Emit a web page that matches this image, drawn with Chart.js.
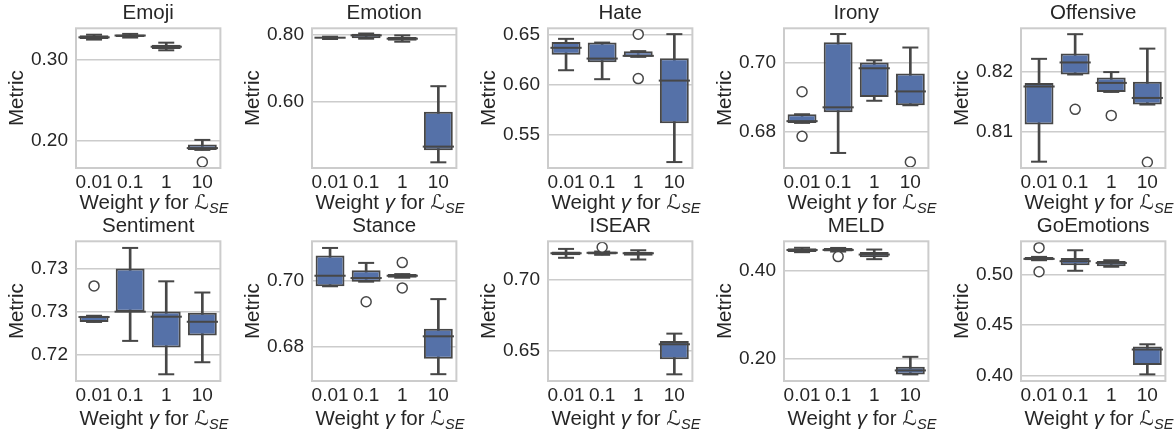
<!DOCTYPE html>
<html><head><meta charset="utf-8">
<script src="https://cdn.jsdelivr.net/npm/chart.js@4/dist/chart.umd.min.js"></script>
<style>
body{margin:0;width:1174px;height:429px;overflow:hidden;background:#fff;position:relative;font-family:"Liberation Sans",Arial,sans-serif;}
.panel{position:absolute;width:238px;height:194px;}
.xl{position:absolute;font-size:20.5px;line-height:22px;color:#262626;white-space:nowrap;transform:translate(-50%,-50%);}
.xl sub{font-size:14.5px;vertical-align:-4px;line-height:0}
.xl .cal{font-family:"DejaVu Sans",sans-serif;font-style:italic;}
</style></head><body>
<script>
// ---- data (box stats per category: [whiskerLow, q1, median, q3, whiskerHigh]) ----
const categories = ['0.01', '0.1', '1', '10'];
const panelTitles = ['Emoji','Emotion','Hate','Irony','Offensive','Sentiment','Stance','ISEAR','MELD','GoEmotions'];

const emojiBox = [[0.3252,0.3258,0.3280,0.3305,0.3312],[0.3277,0.3285,0.3302,0.3315,0.3322],[0.3120,0.3136,0.3164,0.3189,0.3214],[0.1893,0.1893,0.1915,0.1959,0.2016]];
const emojiOut = [['10',0.1744]];
const emojiTicks = [0.20,0.30];
const emojiTickLabels = ['0.20','0.30'];
const emojiRange = [0.1670,0.3391];

const emotionBox = [[0.788,0.790,0.792,0.794,0.795],[0.789,0.790,0.799,0.804,0.8045],[0.780,0.783,0.789,0.794,0.799],[0.419,0.455,0.466,0.570,0.6468]];
const emotionOut = [];
const emotionTicks = [0.60,0.80];
const emotionTickLabels = ['0.60','0.80'];
const emotionRange = [0.402,0.8201];

const hateBox = [[0.6143,0.6296,0.6366,0.6425,0.6455],[0.6054,0.6223,0.6259,0.6418,0.6418],[0.6276,0.6276,0.6286,0.6333,0.6333],[0.523,0.5615,0.604,0.6263,0.6502]];
const hateOut = [['1',0.6502],['1',0.606]];
const hateTicks = [0.55,0.60,0.65];
const hateTickLabels = ['0.55','0.60','0.65'];
const hateRange = [0.5171,0.656];

const ironyBox = [[0.6825,0.6825,0.6830,0.6850,0.6850],[0.6738,0.6856,0.6870,0.7058,0.7082],[0.6889,0.6900,0.6983,0.7000,0.7006],[0.6876,0.6876,0.6916,0.6968,0.7043]];
const ironyOut = [['0.01',0.6915],['0.01',0.6786],['10',0.6712]];
const ironyTicks = [0.68,0.70];
const ironyTickLabels = ['0.68','0.70'];
const ironyRange = [0.66945,0.70986];

const offensiveBox = [[0.8051,0.8113,0.8176,0.8182,0.8222],[0.8196,0.8196,0.8216,0.8231,0.8263],[0.8167,0.8167,0.8182,0.8191,0.8200],[0.8146,0.8146,0.8157,0.8184,0.8239]];
const offensiveOut = [['0.1',0.8138],['1',0.8128],['10',0.8050]];
const offensiveTicks = [0.81,0.82];
const offensiveTickLabels = ['0.81','0.82'];
const offensiveRange = [0.80405,0.82728];

const sentimentBox = [[0.72378,0.72378,0.72435,0.7245,0.7245],[0.72158,0.72497,0.72497,0.7300,0.73238],[0.7177,0.7208,0.72439,0.7250,0.7285],[0.7191,0.7222,0.7238,0.72485,0.7272]];
const sentimentOut = [['0.01',0.72797]];
const sentimentTicks = [0.720,0.725,0.730];
const sentimentTickLabels = ['0.72','0.73','0.73'];
const sentimentRange = [0.71692,0.73315];

const stanceBox = [[0.6984,0.6984,0.7016,0.70775,0.71004],[0.6998,0.6998,0.7009,0.7033,0.7055],[0.7010,0.7010,0.7016,0.7021,0.7021],[0.6717,0.6764,0.6832,0.6855,0.6945]];
const stanceOut = [['0.1',0.6937],['1',0.7056],['1',0.6979]];
const stanceTicks = [0.68,0.70];
const stanceTickLabels = ['0.68','0.70'];
const stanceRange = [0.66963,0.71206];

const isearBox = [[0.7154,0.7172,0.7186,0.7198,0.72165],[0.7175,0.7177,0.7189,0.7198,0.7198],[0.7142,0.7168,0.7186,0.7196,0.7207],[0.6335,0.6441,0.6546,0.6570,0.6621]];
const isearOut = [['0.1',0.7228]];
const isearTicks = [0.65,0.70];
const isearTickLabels = ['0.65','0.70'];
const isearRange = [0.6288,0.727];

const meldBox = [[0.4430,0.4436,0.4480,0.4519,0.4530],[0.4444,0.4444,0.4481,0.4526,0.4526],[0.4271,0.4316,0.4376,0.4436,0.4490],[0.1654,0.1654,0.1744,0.1827,0.2053]];
const meldOut = [['0.1',0.4330]];
const meldTicks = [0.20,0.40];
const meldTickLabels = ['0.20','0.40'];
const meldRange = [0.1504,0.4677];

const goemotionsBox = [[0.5145,0.5145,0.5158,0.5178,0.5178],[0.5040,0.5096,0.5135,0.5168,0.5244],[0.5080,0.5086,0.5118,0.5138,0.5145],[0.4010,0.4102,0.4257,0.4286,0.4309]];
const goemotionsOut = [['0.01',0.5270],['0.01',0.5030]];
const goemotionsTicks = [0.40,0.45,0.50];
const goemotionsTickLabels = ['0.40','0.45','0.50'];
const goemotionsRange = [0.3944,0.5333];

// ---- layout / style ----
const panels = [
  [emojiBox, emojiOut, emojiTicks, emojiTickLabels, emojiRange],
  [emotionBox, emotionOut, emotionTicks, emotionTickLabels, emotionRange],
  [hateBox, hateOut, hateTicks, hateTickLabels, hateRange],
  [ironyBox, ironyOut, ironyTicks, ironyTickLabels, ironyRange],
  [offensiveBox, offensiveOut, offensiveTicks, offensiveTickLabels, offensiveRange],
  [sentimentBox, sentimentOut, sentimentTicks, sentimentTickLabels, sentimentRange],
  [stanceBox, stanceOut, stanceTicks, stanceTickLabels, stanceRange],
  [isearBox, isearOut, isearTicks, isearTickLabels, isearRange],
  [meldBox, meldOut, meldTicks, meldTickLabels, meldRange],
  [goemotionsBox, goemotionsOut, goemotionsTicks, goemotionsTickLabels, goemotionsRange]
];
const plotLefts = [76, 312, 548, 784, 1021];
const rowTops = [0, 213];
const xLabelY = [202, 418];
const FONT = '"Liberation Sans", Arial, sans-serif';
const TEXT = '#262626';
const LINE = '#474747';
const FILL = '#5571a8';
const GRID = '#cccccc';

const framePlugin = {
  id: 'frame',
  afterDatasetsDraw(chart) {
    const a = chart.chartArea, ctx = chart.ctx;
    ctx.save();
    ctx.strokeStyle = GRID; ctx.lineWidth = 2;
    ctx.strokeRect(a.left, a.top, a.right - a.left, a.bottom - a.top);
    ctx.restore();
  }
};

panels.forEach((p, i) => {
  const [box, out, ticks, tickLabels, range] = p;
  const row = Math.floor(i / 5), col = i % 5;
  const div = document.createElement('div');
  div.className = 'panel';
  div.style.left = (plotLefts[col] - 76) + 'px';
  div.style.top = rowTops[row] + 'px';
  const cv = document.createElement('canvas');
  div.appendChild(cv);
  document.body.appendChild(div);

  const xl = document.createElement('div');
  xl.className = 'xl';
  xl.style.left = (plotLefts[col] + 78) + 'px';
  xl.style.top = xLabelY[row] + 'px';
  xl.innerHTML = 'Weight <i>γ</i> for <span class="cal">ℒ</span><sub><i>SE</i></sub>';
  document.body.appendChild(xl);

  const pointCommon = {type: 'line', showLine: false, clip: false, pointBorderColor: LINE, pointBorderWidth: 2, pointHoverRadius: 0};
  new Chart(cv, {
    type: 'bar',
    data: {
      labels: categories,
      datasets: [
        {label: 'whisker', data: box.map(b => [b[0], b[4]]), backgroundColor: LINE, barThickness: 2, grouped: false, order: 3},
        {label: 'box', data: box.map(b => [b[1], b[3]]), backgroundColor: FILL, borderColor: LINE, borderWidth: 2, borderSkipped: false, barPercentage: 0.8, categoryPercentage: 1, grouped: false, order: 2},
        Object.assign({label: 'median', data: box.map(b => b[2]), pointStyle: 'line', pointRadius: 15.6, order: 1}, pointCommon),
        Object.assign({label: 'capLow', data: box.map(b => b[0]), pointStyle: 'line', pointRadius: 8, order: 1}, pointCommon),
        Object.assign({label: 'capHigh', data: box.map(b => b[4]), pointStyle: 'line', pointRadius: 8, order: 1}, pointCommon),
        Object.assign({label: 'outliers', data: out.map(o => ({x: o[0], y: o[1]})), pointStyle: 'circle', pointRadius: 5, pointBackgroundColor: '#ffffff', order: 0}, pointCommon, {pointBorderWidth: 1.5})
      ]
    },
    options: {
      responsive: true, maintainAspectRatio: false, animation: false, events: [],
      layout: {padding: {left: 0, right: 6, top: 0, bottom: 0}},
      plugins: {
        legend: {display: false}, tooltip: {enabled: false},
        title: {display: true, fullSize: false, text: panelTitles[i], color: TEXT, font: {family: FONT, size: 20.5, weight: 'normal'}, padding: {top: 1, bottom: 2.7}}
      },
      scales: {
        x: {
          grid: {display: false, drawTicks: false}, border: {display: false},
          ticks: {color: TEXT, font: {family: FONT, size: 19}, padding: 3, maxRotation: 0, autoSkip: false},
          afterFit(s) { s.height = 26; }
        },
        y: {
          min: range[0], max: range[1],
          grid: {color: GRID, lineWidth: 1.5, drawTicks: false}, border: {display: false},
          afterBuildTicks(s) { s.ticks = ticks.map(v => ({value: v})); },
          ticks: {color: TEXT, font: {family: FONT, size: 19}, padding: 8,
            callback: (v, idx) => tickLabels[idx]},
          title: {display: true, text: 'Metric', color: TEXT, font: {family: FONT, size: 20.5}, padding: {top: 5, bottom: 0}},
          afterFit(s) { s.width = 76; }
        }
      }
    },
    plugins: [framePlugin]
  });
});
</script>
</body></html>
